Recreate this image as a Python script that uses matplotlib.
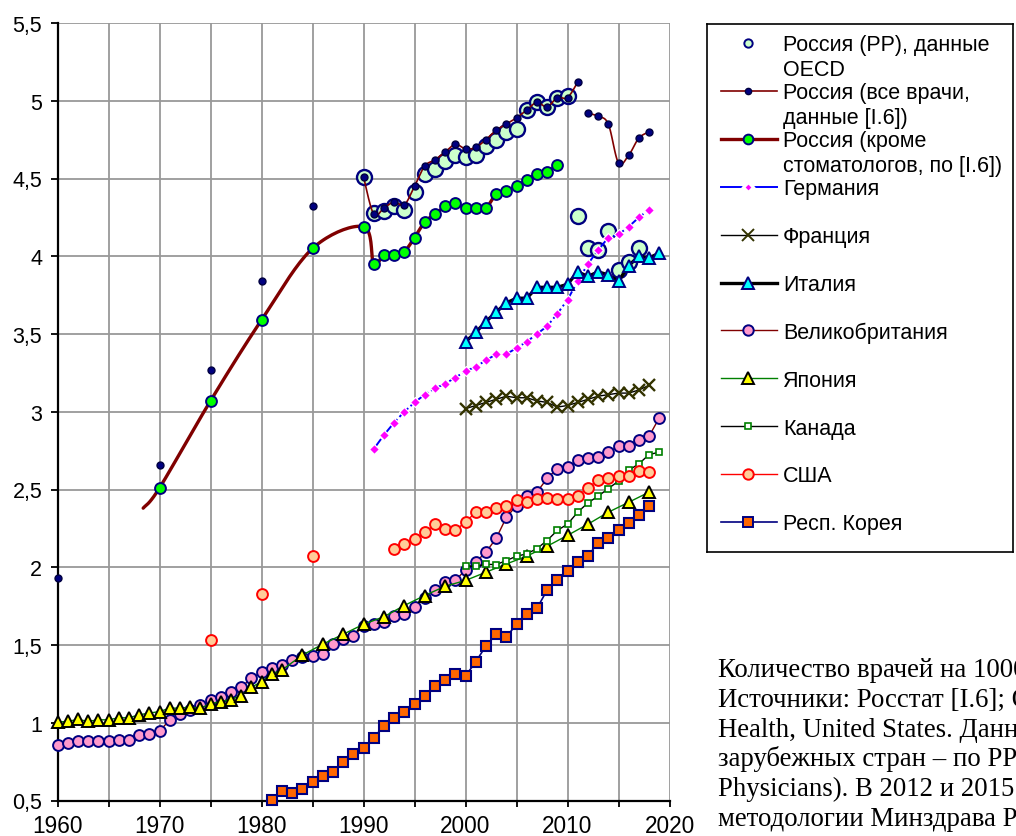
import numpy as np
import matplotlib
matplotlib.use("Agg")
import matplotlib.pyplot as plt
from matplotlib.ticker import MultipleLocator, FuncFormatter

plt.rcParams['font.family'] = ['Liberation Sans', 'DejaVu Sans']

nan = np.nan

# ---------------- data ----------------
# Russia, practising physicians, OECD data (markers only)
rus_oecd_years = list(range(1990, 2018))
rus_oecd_vals = [4.51, 4.28, 4.29, 4.32, 4.30, 4.41, 4.53, 4.56, 4.61, 4.65,
                 4.64, 4.65, 4.71, 4.75, 4.80, 4.82, 4.94, 4.99, 4.96, 5.02,
                 5.03, 4.26, 4.05, 4.04, 4.16, 3.91, 3.96, 4.05]

# Russia, all doctors (Rosstat) -- NaN marks a break in the line
rus_all_years = [1960, nan, 1970, nan, 1975, nan, 1980, nan, 1985, nan,
                 1990, 1991, 1992, 1993, 1994, 1995, 1996, 1997, 1998, 1999,
                 2000, 2001, 2002, 2003, 2004, 2005, 2006, 2007, 2008, 2009,
                 2010, 2011, nan,
                 2012, 2013, 2014, 2015, 2016, 2017, 2018]
rus_all_vals = [1.93, nan, 2.66, nan, 3.27, nan, 3.84, nan, 4.32, nan,
                4.51, 4.27, 4.31, 4.35, 4.33, 4.45, 4.58, 4.62, 4.67, 4.72,
                4.69, 4.70, 4.75, 4.81, 4.85, 4.89, 4.94, 4.99, 4.96, 5.02,
                5.02, 5.12, nan,
                4.92, 4.90, 4.85, 4.60, 4.65, 4.76, 4.80]

# Russia, without dentists
rus_ex_years = [1970, 1975, 1980, 1985, 1990, 1991, 1992, 1993, 1994, 1995,
                1996, 1997, 1998, 1999, 2000, 2001, 2002, 2003, 2004, 2005,
                2006, 2007, 2008, 2009]
rus_ex_vals = [2.51, 3.07, 3.59, 4.05, 4.19, 3.95, 4.01, 4.01, 4.03, 4.12,
               4.22, 4.27, 4.32, 4.34, 4.31, 4.31, 4.31, 4.40, 4.42, 4.45,
               4.49, 4.53, 4.54, 4.59]
# where the curve of that series begins (no marker there)
rus_ex_line_start_year = 1968.4
rus_ex_line_start_val = 2.38

de_years = list(range(1991, 2019))
de_vals = [2.76, 2.85, 2.93, 3.00, 3.06, 3.11, 3.15, 3.18, 3.22, 3.26,
           3.29, 3.33, 3.37, 3.37, 3.41, 3.45, 3.50, 3.55, 3.63, 3.72,
           3.84, 3.95, 4.04, 4.12, 4.14, 4.19, 4.25, 4.30]

fr_years = list(range(2000, 2019))
fr_vals = [3.02, 3.04, 3.06, 3.08, 3.10, 3.09, 3.09, 3.07, 3.06, 3.03,
           3.04, 3.06, 3.08, 3.10, 3.11, 3.12, 3.12, 3.14, 3.17]

it_years = list(range(2000, 2020))
it_vals = [3.45, 3.51, 3.58, 3.64, 3.70, 3.73, 3.73, 3.80, 3.80, 3.80,
           3.82, 3.90, 3.87, 3.90, 3.88, 3.84, 3.94, 4.00, 3.99, 4.02]

uk_years = list(range(1960, 2020))
uk_vals = [0.855, 0.870, 0.881, 0.881, 0.881, 0.881, 0.891, 0.891, 0.919, 0.930,
           0.945, 1.019, 1.058, 1.085, 1.111, 1.147, 1.164, 1.200, 1.228, 1.286,
           1.326, 1.353, 1.370, 1.405, 1.420, 1.430, 1.445, 1.505, 1.537, 1.558,
           1.622, 1.635, 1.647, 1.686, 1.697, 1.746, 1.803, 1.853, 1.904, 1.915,
           1.983, 2.033, 2.097, 2.185, 2.320, 2.397, 2.457, 2.483, 2.571, 2.635,
           2.646, 2.689, 2.700, 2.710, 2.740, 2.779, 2.779, 2.818, 2.843, 2.961]

jp_years = list(range(1960, 1983)) + list(range(1984, 2019, 2))
jp_vals = [1.004, 1.009, 1.021, 1.009, 1.019, 1.019, 1.032, 1.032, 1.051, 1.062,
           1.072, 1.094, 1.094, 1.100, 1.094, 1.122, 1.136, 1.149, 1.175, 1.228,
           1.264, 1.313, 1.339,
           1.435, 1.505, 1.569, 1.633, 1.682, 1.754, 1.818, 1.878, 1.915, 1.968,
           2.021, 2.071, 2.135, 2.205, 2.277, 2.354, 2.418, 2.483]

ca_years = list(range(2000, 2020))
ca_vals = [2.006, 2.006, 2.019, 2.017, 2.043, 2.071, 2.086, 2.120, 2.172, 2.237,
           2.277, 2.354, 2.414, 2.457, 2.506, 2.554, 2.624, 2.665, 2.725, 2.740]

us_years = [1975, nan, 1980, nan, 1985, nan] + list(range(1993, 2019))
us_vals = [1.533, nan, 1.827, nan, 2.07, nan,
           2.120, 2.150, 2.182, 2.225, 2.275, 2.249, 2.238, 2.290, 2.354, 2.354,
           2.382, 2.397, 2.431, 2.418, 2.436, 2.446, 2.440, 2.436, 2.457, 2.511,
           2.560, 2.571, 2.586, 2.586, 2.618, 2.612]

kr_years = list(range(1981, 2019))
kr_vals = [0.504, 0.558, 0.547, 0.575, 0.622, 0.660, 0.686, 0.750, 0.799, 0.835,
           0.902, 0.981, 1.030, 1.071, 1.120, 1.173, 1.237, 1.274, 1.312, 1.301,
           1.391, 1.494, 1.568, 1.553, 1.632, 1.701, 1.735, 1.853, 1.915, 1.975,
           2.032, 2.075, 2.155, 2.190, 2.238, 2.287, 2.339, 2.393]

legend_labels = [
    ["Россия (РР), данные", "OECD"],
    ["Россия (все врачи,", "данные [I.6])"],
    ["Россия (кроме", "стоматологов, по [I.6])"],
    ["Германия"], ["Франция"], ["Италия"], ["Великобритания"], ["Япония"],
    ["Канада"], ["США"], ["Респ. Корея"],
]

note_lines = [
    "Количество врачей на 1000 человек населения.",
    "Источники: Росстат [I.6]; OECD Health Statistics;",
    "Health, United States. Данные для России и",
    "зарубежных стран – по PP (Practising",
    "Physicians). В 2012 и 2015 гг. изменения",
    "методологии Минздрава РФ.",
]

# ---------------- styles ----------------
DARKRED = '#800000'
NAVY = '#000080'

styles = [
    dict(line=None, marker='o', ms=10.8, mfc='#CCFFCC', mec=NAVY, mew=1.7, lms=6.0, smooth=False),
    dict(line=dict(color=DARKRED, lw=1.2, ls='-'), marker='o', ms=5.0, mfc=NAVY, mec='#000040', mew=1.0, lms=4.5, smooth=True),
    dict(line=dict(color=DARKRED, lw=2.4, ls='-'), marker='o', ms=7.8, mfc='#00FF00', mec=NAVY, mew=1.4, lms=7.0, smooth=True),
    dict(line=dict(color='#0000FF', lw=1.4, ls='-.'), marker='D', ms=5.2, mfc='#FF00FF', mec='white', mew=0.9, lms=5.0, smooth=False),
    dict(line=dict(color='black', lw=1.0, ls='-'), marker='x', ms=8.8, mfc='#333300', mec='#333300', mew=1.7, lms=8.5, smooth=False),
    dict(line=dict(color='black', lw=2.4, ls='-'), marker='^', ms=8.8, mfc='#00FFFF', mec=NAVY, mew=1.4, lms=8.5, smooth=False),
    dict(line=dict(color=DARKRED, lw=1.0, ls='-'), marker='o', ms=7.8, mfc='#FF99CC', mec=NAVY, mew=1.4, lms=7.5, smooth=False),
    dict(line=dict(color='#008000', lw=1.0, ls='-'), marker='^', ms=9.0, mfc='#FFFF00', mec='black', mew=1.4, lms=8.5, smooth=False),
    dict(line=dict(color='black', lw=1.0, ls='-'), marker='s', ms=3.8, mfc='white', mec='#008000', mew=1.2, lms=4.2, smooth=False),
    dict(line=dict(color='#FF0000', lw=1.0, ls='-'), marker='o', ms=7.8, mfc='#FFCC99', mec='#FF0000', mew=1.4, lms=7.5, smooth=False),
    dict(line=dict(color=NAVY, lw=1.2, ls='-'), marker='s', ms=6.8, mfc='#FF6600', mec=NAVY, mew=1.5, lms=7.2, smooth=False),
]


def bezier_smooth(x, y, n=20):
    """Excel-like smoothed line through points (cubic Bezier, Catmull-Rom tangents)."""
    P = np.column_stack([np.asarray(x, float), np.asarray(y, float)])
    if len(P) < 3:
        return P[:, 0], P[:, 1]
    t = np.linspace(0, 1, n + 1)[1:, None]
    out = [P[:1]]
    for i in range(len(P) - 1):
        p0 = P[i - 1] if i > 0 else P[i]
        p1, p2 = P[i], P[i + 1]
        p3 = P[i + 2] if i + 2 < len(P) else P[i + 1]
        c1 = p1 + (p2 - p0) / 6.0
        c2 = p2 - (p3 - p1) / 6.0
        seg = ((1 - t) ** 3) * p1 + 3 * ((1 - t) ** 2) * t * c1 + 3 * (1 - t) * t ** 2 * c2 + t ** 3 * p2
        out.append(seg)
    Q = np.vstack(out)
    return Q[:, 0], Q[:, 1]


def segments(x, y):
    x = np.asarray(x, float); y = np.asarray(y, float)
    bad = np.isnan(x) | np.isnan(y)
    segs, cur = [], []
    for i in range(len(x)):
        if bad[i]:
            if cur:
                segs.append(cur); cur = []
        else:
            cur.append(i)
    if cur:
        segs.append(cur)
    return [(x[s], y[s]) for s in segs]


def draw_series(ax, x, y, st, z, line_x=None, line_y=None):
    lx = x if line_x is None else line_x
    ly = y if line_y is None else line_y
    if st['line'] is not None:
        for sx, sy in segments(lx, ly):
            if len(sx) < 2:
                continue
            if st['smooth']:
                sx, sy = bezier_smooth(sx, sy)
            ax.plot(sx, sy, color=st['line']['color'], lw=st['line']['lw'],
                    ls=st['line']['ls'], zorder=z, solid_capstyle='round',
                    solid_joinstyle='round')
    ax.plot(x, y, ls='none', marker=st['marker'], ms=st['ms'], mfc=st['mfc'],
            mec=st['mec'], mew=st['mew'], zorder=z + 0.05, clip_on=False)


# ---------------- figure ----------------
W, H = 1016, 837
fig = plt.figure(figsize=(W / 100, H / 100), dpi=100)
ax = fig.add_axes([57.5 / W, 1 - 801.5 / H, 612 / W, 777.5 / H])
ax.set_xlim(1960, 2020)
ax.set_ylim(0.5, 5.5)

ax.xaxis.set_major_locator(MultipleLocator(10))
ax.xaxis.set_minor_locator(MultipleLocator(5))
ax.yaxis.set_major_locator(MultipleLocator(0.5))
ax.yaxis.set_major_formatter(FuncFormatter(lambda v, p: f"{v:g}".replace('.', ',')))
ax.xaxis.set_major_formatter(FuncFormatter(lambda v, p: f"{int(round(v))}"))

ax.grid(which='major', axis='both', color='#999999', lw=1.3)
ax.grid(which='minor', axis='x', color='#999999', lw=1.3)
ax.set_axisbelow(True)
for s in ('top', 'right'):
    ax.spines[s].set_visible(False)
for s in ('left', 'bottom'):
    ax.spines[s].set_color('black')
    ax.spines[s].set_linewidth(1.6)
    ax.spines[s].set_zorder(2.5)
ax.tick_params(axis='y', which='major', direction='out', length=5, width=1.3,
               pad=6, labelsize=15.5, colors='black')
ax.tick_params(axis='x', which='both', direction='out', length=4, width=1.3,
               pad=6, labelsize=16.3, colors='black')

series = [
    (rus_oecd_years, rus_oecd_vals),
    (rus_all_years, rus_all_vals),
    (rus_ex_years, rus_ex_vals),
    (de_years, de_vals),
    (fr_years, fr_vals),
    (it_years, it_vals),
    (uk_years, uk_vals),
    (jp_years, jp_vals),
    (ca_years, ca_vals),
    (us_years, us_vals),
    (kr_years, kr_vals),
]

for i, ((xs, ys), st) in enumerate(zip(series, styles)):
    z = 3 + i * 0.2
    if i == 2:
        draw_series(ax, xs, ys, st, z,
                    line_x=[rus_ex_line_start_year] + list(xs),
                    line_y=[rus_ex_line_start_val] + list(ys))
    else:
        draw_series(ax, xs, ys, st, z)

# ---------------- legend (Excel-like box) ----------------
lx0, ly0, lx1, ly1 = 707, 25, 1013, 553
lax = fig.add_axes([lx0 / W, 1 - ly1 / H, (lx1 - lx0) / W, (ly1 - ly0) / H])
lax.set_xlim(0, lx1 - lx0)
lax.set_ylim(ly1 - ly0, 0)
lax.set_xticks([]); lax.set_yticks([])
for s in lax.spines.values():
    s.set_color('black'); s.set_linewidth(1.2)
lax.patch.set_facecolor('white')

row0, row_step, line2_step = 19.0, 47.9, 24.5
hx0, hx1, hm, tx = 13.5, 70.0, 41.0, 76.0
for i, (lab, st) in enumerate(zip(legend_labels, styles)):
    yy = row0 + i * row_step
    if st['line'] is not None:
        lls = '-' if st['line']['ls'] == '-.' else st['line']['ls']
        lax.plot([hx0, hx1], [yy, yy], color=st['line']['color'],
                 lw=st['line']['lw'], ls=lls, zorder=2)
    lax.plot([hm], [yy], ls='none', marker=st['marker'], ms=st['lms'],
             mfc=st['mfc'], mec=st['mec'],
             mew=min(st['mew'], 1.4) if st['mec'] != 'white' else 2.2,
             zorder=3)
    for j, t in enumerate(lab):
        lax.text(tx, yy + j * line2_step + 7.4, t, fontsize=15.5, va='baseline',
                 ha='left', color='black')

# ---------------- note text ----------------
note_baselines = [677, 707, 737, 766, 796, 826]
for t, b in zip(note_lines, note_baselines):
    fig.text(718 / W, 1 - b / H, t, fontsize=19.3,
             family=['Liberation Serif', 'DejaVu Serif'],
             va='baseline', ha='left', color='black')

fig.savefig('out.png', dpi=100)
